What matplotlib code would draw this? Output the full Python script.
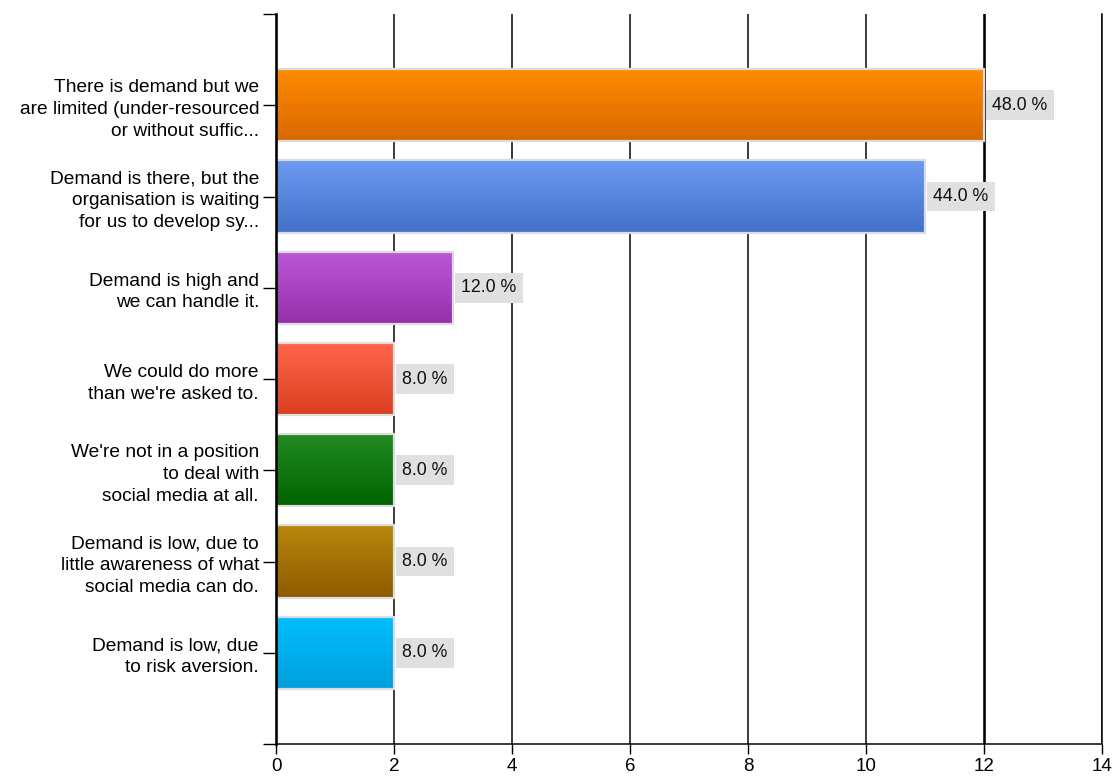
import numpy as np
import matplotlib
matplotlib.use("Agg")
import matplotlib.pyplot as plt
from matplotlib.colors import to_rgb

# Survey answers (top to bottom), response counts and share of respondents
categories = [
    "There is demand but we\nare limited (under-resourced\nor without suffic...",
    "Demand is there, but the\norganisation is waiting\nfor us to develop sy...",
    "Demand is high and\nwe can handle it.",
    "We could do more\nthan we're asked to.",
    "We're not in a position\nto deal with\nsocial media at all.",
    "Demand is low, due to\nlittle awareness of what\nsocial media can do.",
    "Demand is low, due\nto risk aversion.",
]
counts = [12, 11, 3, 2, 2, 2, 2]
percent_labels = ["48.0 %", "44.0 %", "12.0 %", "8.0 %", "8.0 %", "8.0 %", "8.0 %"]
x_ticks = [0, 2, 4, 6, 8, 10, 12, 14]

# Vertical gradient for each bar: (top colour, bottom colour)
bar_gradients = [
    ("#ff8c00", "#d96800"),
    ("#6b9af0", "#4371c9"),
    ("#bb58d6", "#9430aa"),
    ("#ff6649", "#dc3f22"),
    ("#238b23", "#006300"),
    ("#b8870c", "#8e5b00"),
    ("#00bfff", "#009edc"),
]

PX = 0.72  # points per pixel at 100 dpi

plt.rcParams["font.family"] = ["Liberation Sans", "DejaVu Sans"]

fig = plt.figure(figsize=(11.14, 7.76), dpi=100)
ax = fig.add_axes([276 / 1114, 1 - 744 / 776, (1102 - 276) / 1114, (744 - 14) / 776])

positions = np.arange(1, len(categories) + 1)
bar_h = 0.79

bars = ax.barh(positions, counts, height=bar_h, color="none",
               edgecolor="#dcdcdc", linewidth=2.2 * PX, zorder=4)

for patch, (c_top, c_bot) in zip(bars.patches, bar_gradients):
    x0, y0 = patch.get_x(), patch.get_y()
    w, h = patch.get_width(), patch.get_height()
    t = np.linspace(0, 1, 64)[:, None, None]
    grad = (1 - t) * np.array(to_rgb(c_top)) + t * np.array(to_rgb(c_bot))
    # row 0 is the visual top of the bar (smaller y on the inverted axis)
    ax.imshow(grad, extent=(x0, x0 + w, y0 + h, y0), origin="upper",
              aspect="auto", interpolation="bilinear", zorder=3)

for patch, lab in zip(bars.patches, percent_labels):
    xe = patch.get_x() + patch.get_width()
    yc = patch.get_y() + patch.get_height() / 2
    ax.annotate(lab, xy=(xe, yc), xytext=(8 * PX, 0), textcoords="offset points",
                ha="left", va="center", fontsize=12.8, color="#111111", zorder=5,
                bbox=dict(boxstyle="square,pad=0.36", fc="#e0e0e0", ec="none"))

ax.set_xlim(0, 14)
ax.set_ylim(len(categories) + 1, 0)

ax.set_xticks(x_ticks)
ax.set_xticklabels([str(v) for v in x_ticks], fontsize=13.5)
ax.set_yticks(positions)
ax.set_yticklabels(categories, fontsize=13.8, linespacing=1.36)
ax.set_yticks([0, len(categories) + 1], minor=True)

ax.tick_params(axis="x", direction="out", length=10 * PX, width=1.4 * PX,
               pad=3, colors="black")
ax.tick_params(axis="y", which="both", direction="out", length=13 * PX,
               width=1.4 * PX, pad=4 * PX, colors="black")

ax.grid(axis="x", color="black", linewidth=1.5 * PX, zorder=1)
ax.set_axisbelow(True)
xgrid = ax.get_xgridlines()
xgrid[6].set_linewidth(2.6 * PX)

ax.spines["top"].set_visible(False)
ax.spines["left"].set_linewidth(2.6 * PX)
ax.spines["bottom"].set_linewidth(1.5 * PX)
ax.spines["right"].set_linewidth(1.5 * PX)
for s in ("left", "bottom", "right"):
    ax.spines[s].set_zorder(6)

fig.savefig("out.png", dpi=100, facecolor="white")
